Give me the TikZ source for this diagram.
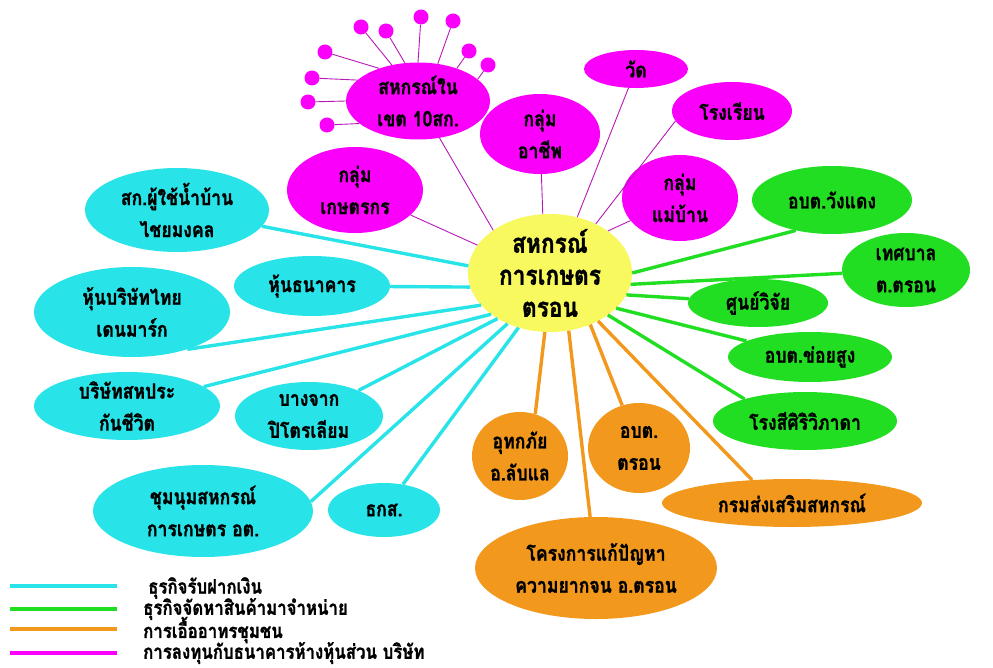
\documentclass[tikz,border=0pt]{standalone}
\usepackage{fontspec}
\newfontfamily\thaifont[Script=Thai, FakeStretch=0.84, BoldFeatures={FakeBold=1.2}]{Loma}
\usetikzlibrary{shapes.geometric}

\definecolor{hubyellow}{RGB}{248,248,95}
\definecolor{pinkfill}{RGB}{250,0,250}
\definecolor{cyanfill}{RGB}{40,228,232}
\definecolor{greenfill}{RGB}{34,222,34}
\definecolor{orangefill}{RGB}{242,152,28}

\tikzset{
  bubble/.style={ellipse, inner xsep=-16pt, inner ysep=-12pt, align=center,
    font=\thaifont\bfseries\fontsize{21}{32}\selectfont, text=black},
  hubbubble/.style={bubble, fill=hubyellow, font=\thaifont\bfseries\fontsize{27}{32}\selectfont},
  pinkbubble/.style={bubble, fill=pinkfill},
  cyanbubble/.style={bubble, fill=cyanfill},
  greenbubble/.style={bubble, fill=greenfill},
  orangebubble/.style={bubble, fill=orangefill},
  pinkdot/.style={circle, fill=pinkfill, minimum size=15pt, inner sep=0pt},
  pinkline/.style={draw=pinkfill!70!black!90, line width=0.9pt},
  cyanline/.style={draw=cyanfill, line width=3.4pt},
  greenline/.style={draw=greenfill, line width=3.4pt},
  orangeline/.style={draw=orangefill, line width=3.4pt},
  keytext/.style={anchor=west, inner sep=0pt, font=\thaifont\bfseries\fontsize{20}{20}\selectfont}
}

\begin{document}
\begin{tikzpicture}[x=1pt, y=-1pt]
\useasboundingbox (0,0) rectangle (993,668);

% Hub -- yellow ellipse in the middle
\node[hubbubble, minimum width=164pt, minimum height=118pt] (hub) at (550,273) {สหกรณ์\\การเกษตร\\ตรอน};

% Investment (magenta)
\node[pinkbubble, minimum width=144pt, minimum height=77pt] (sk10) at (418,101) {สหกรณ์ใน\\เขต 10สก.};
\node[pinkbubble, minimum width=136pt, minimum height=86pt] (farmer) at (355,190) {กลุ่ม\\เกษตรกร};
\node[pinkbubble, minimum width=120pt, minimum height=80pt] (career) at (540,134) {กลุ่ม\\อาชีพ};
\node[pinkbubble, minimum width=104pt, minimum height=38pt] (temple) at (636,69) {วัด};
\node[pinkbubble, minimum width=120pt, minimum height=58pt] (school) at (732,111) {โรงเรียน};
\node[pinkbubble, minimum width=116pt, minimum height=86pt] (housewife) at (680,198) {กลุ่ม\\แม่บ้าน};

% small member dots round sk10
\foreach \i/\x/\y/\a in {1/325/52/140, 2/312/78/161, 3/308/102/180, 4/327/125/201,
    5/361/27/126, 6/386/31/109, 7/421/17/90, 8/453/21/62, 9/469/51/40, 10/488/65/20}{
  \node[pinkdot] (dot\i) at (\x,\y) {};
  \draw[pinkline] (dot\i) -- (sk10.\a);
}

\draw[pinkline] (hub.159) -- (farmer);
\draw[pinkline] (hub.143) -- (sk10);
\draw[pinkline] (hub.97) -- (career);
\draw[pinkline] (hub.64) -- (temple);
\draw[pinkline] (hub.47) -- (school.190);
\draw[pinkline] (hub.36) -- (housewife);

% Deposits (cyan)
\node[cyanbubble, minimum width=184pt, minimum height=84pt] (water) at (177,210) {สก.ผู้ใช้น้ำบ้าน\\ไชยมงคล};
\node[cyanbubble, minimum width=156pt, minimum height=60pt] (bankshare) at (312,286) {หุ้นธนาคาร};
\node[cyanbubble, minimum width=196pt, minimum height=90pt] (thaidenmark) at (132,312) {หุ้นบริษัทไทย\\เดนมาร์ก};
\node[cyanbubble, minimum width=186pt, minimum height=68pt] (insurance) at (127,406) {บริษัทสหประ\\กันชีวิต};
\node[cyanbubble, minimum width=148pt, minimum height=68pt] (bangchak) at (309,416) {บางจาก\\ปิโตรเลียม};
\node[cyanbubble, minimum width=220pt, minimum height=92pt] (federation) at (203,511) {ชุมนุมสหกรณ์\\การเกษตร อต.};
\node[cyanbubble, minimum width=112pt, minimum height=54pt] (baac) at (384,510) {ธกส.};

\draw[cyanline] (hub.175) -- (water);
\draw[cyanline] (hub.190) -- (bankshare);
\draw[cyanline] (hub.205) -- (thaidenmark.-34);
\draw[cyanline] (hub.215) -- (insurance);
\draw[cyanline] (hub.221) -- (bangchak);
\draw[cyanline] (hub.230) -- (federation.5);
\draw[cyanline] (hub.240) -- (baac);

% Supplies (green)
\node[greenbubble, minimum width=160pt, minimum height=68pt] (wangdaeng) at (832,200) {อบต.วังแดง};
\node[greenbubble, minimum width=128pt, minimum height=74pt] (municipal) at (906,270) {เทศบาล\\ต.ตรอน};
\node[greenbubble, minimum width=140pt, minimum height=48pt] (research) at (758,303) {ศูนย์วิจัย};
\node[greenbubble, minimum width=164pt, minimum height=50pt] (khoisung) at (810,357) {อบต.ข่อยสูง};
\node[greenbubble, minimum width=184pt, minimum height=58pt] (ricemill) at (805,421) {โรงสีศิริวิภาดา};

\draw[greenline] (hub.0) -- (wangdaeng.-140);
\draw[greenline] (hub.-8) -- (municipal);
\draw[greenline] (hub.-16) -- (research);
\draw[greenline] (hub.-28) -- (khoisung);
\draw[greenline] (hub.-36) -- (ricemill.160);

% Community (orange)
\node[orangebubble, minimum width=96pt, minimum height=88pt] (flood) at (520,456) {อุทกภัย\\อ.ลับแล};
\node[orangebubble, minimum width=102pt, minimum height=90pt] (tron) at (639,448) {อบต.\\ตรอน};
\node[orangebubble, minimum width=260pt, minimum height=48pt] (promote) at (792,503) {กรมส่งเสริมสหกรณ์};
\node[orangebubble, minimum width=242pt, minimum height=102pt] (poverty) at (596,568) {โครงการแก้ปัญหา\\ความยากจน อ.ตรอน};

\draw[orangeline] (hub.-95) -- (flood.70);
\draw[orangeline] (hub.-72) -- (poverty);
\draw[orangeline] (hub.-52) -- (tron);
\draw[orangeline] (hub.-45) -- (promote.150);

% Key
\draw[cyanline] (10,586) -- (117,586);
\draw[greenline] (10,609) -- (117,609);
\draw[orangeline] (10,629) -- (117,629);
\draw[draw=pinkfill, line width=3.4pt] (10,653) -- (117,653);
\node[keytext] (key1) at (148,588) {ธุรกิจรับฝากเงิน};
\node[keytext] (key2) at (143,609) {ธุรกิจจัดหาสินค้ามาจำหน่าย};
\node[keytext] (key3) at (143,630) {การเอื้ออาทรชุมชน};
\node[keytext] (key4) at (143,653) {การลงทุนกับธนาคารห้างหุ้นส่วน บริษัท};

\end{tikzpicture}
\end{document}
